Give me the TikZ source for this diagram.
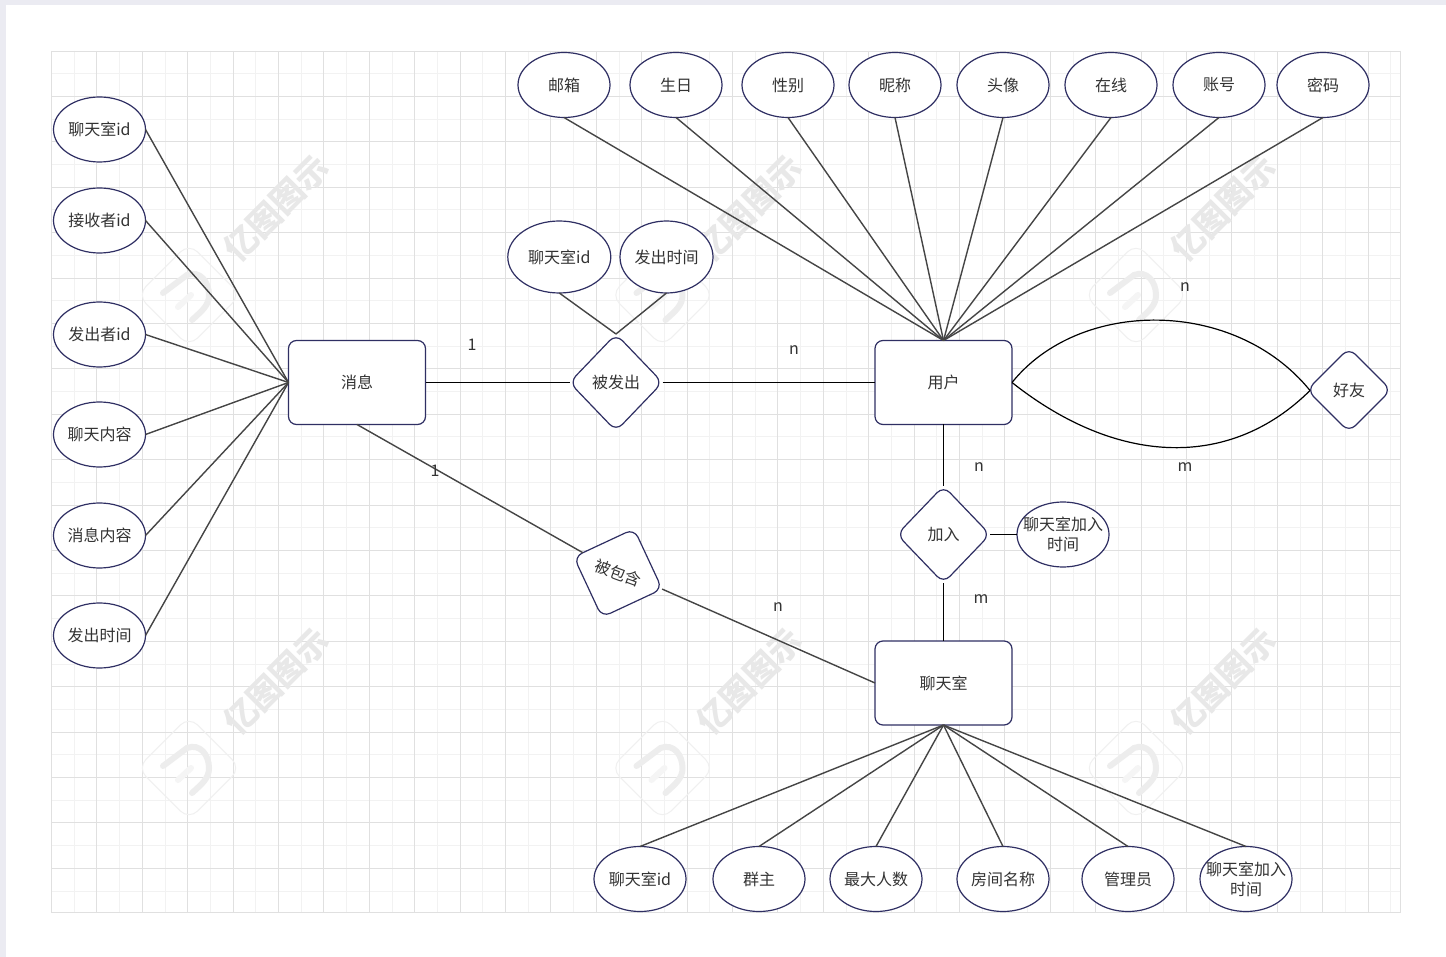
\documentclass[tikz,border=0pt]{standalone}
\usepackage{fontspec}
\setmainfont{Noto Sans CJK SC}
\usepackage{tikz}
\usetikzlibrary{shapes.geometric}
\definecolor{navy}{HTML}{2F2F63}
\definecolor{ink}{HTML}{333333}
\definecolor{wire}{HTML}{454545}
\definecolor{strip}{HTML}{EBEBF2}
\newcommand{\wideline}[1]{\makebox[0pt]{#1}}

\begin{document}
\begin{tikzpicture}[
  x=1pt, y=-1pt,
  every node/.style={font=\fontsize{16}{20}\selectfont, text=ink, inner sep=0pt, outer sep=0pt},
  ent/.style={draw=navy, fill=white, line width=1.2pt, rounded corners=8pt, minimum width=137pt, minimum height=84pt},
  attr/.style={draw=navy, fill=white, line width=1.2pt, ellipse, minimum width=92pt, minimum height=65pt, align=center},
  rel/.style={draw=navy, fill=white, line width=1.2pt, diamond, rounded corners=9pt, minimum width=93pt, minimum height=97pt},
  lab/.style={font=\fontsize{16}{20}\selectfont},
  wire/.style={draw=wire, line width=1.4pt},
  curve/.style={draw=black, line width=1.2pt},
  gridmajor/.style={draw=black!12, line width=.9pt},
  gridminor/.style={draw=black!5, line width=.8pt},
  wm/.style={draw=black!7, line width=6pt, line cap=round}]
\useasboundingbox (0,0) rectangle (1446,957);
\fill[white] (0,0) rectangle (1446,957);
\fill[strip] (0,0) rectangle (1446,5);
\fill[strip] (0,0) rectangle (6,957);
% grid
\foreach \gx in {0,...,29} {
  \draw[gridminor] ({74.2+45.4*\gx},51) -- ({74.2+45.4*\gx},912);
}
\foreach \gy in {0,...,18} {
  \draw[gridminor] (51.5,{73.7+45.4*\gy}) -- (1400.5,{73.7+45.4*\gy});
}
\foreach \gx in {0,...,29} {
  \draw[gridmajor] ({51.5+45.4*\gx},51) -- ({51.5+45.4*\gx},912.5);
}
\foreach \gy in {0,...,18} {
  \draw[gridmajor] (51.5,{51+45.4*\gy}) -- (1400.5,{51+45.4*\gy});
}
\draw[gridmajor] (51.5,912.5) -- (1400.5,912.5);
\draw[gridmajor] (1400.5,51) -- (1400.5,912.5);
% watermark
\foreach \wx in {0,473.5,947} {
  \foreach \wy in {0,473} {
    \begin{scope}[shift={(\wx,\wy)}]
    \node[draw=black!6, line width=1pt, rounded corners=12pt, rotate=45, minimum size=73pt] (logo) at (189,295) {};
    \draw[wm] (163,293) -- (187,275) .. controls (200,270) and (209,282) .. (209,295) .. controls (209,305) and (203,310) .. (192,320);
    \draw[wm, draw=black!4] (178,307) -- (191,295);
    \node[rotate=45, text=black!9, font=\fontsize{33}{33}\selectfont\bfseries] (mark) at (276,208) {亿图图示};
    \end{scope}
  }
}
% entities
\node[ent] (msg) at (357,382.5) {消息};
\node[ent] (user) at (943.5,382.5) {用户};
\node[ent] (room) at (943.5,683) {聊天室};
% relations
\node[rel] (sent) at (616,382.5) {被发出};
\node[rel] (join) at (943.5,534.5) {加入};
\node[rel, minimum width=84pt, minimum height=84pt] (friend) at (1349,390) {好友};
\node[rel, rotate=-20, minimum width=94pt, minimum height=94pt] (held) at (618,573) {被包含};
\coordinate (friendtip) at (1310,390.5);
% message attributes
\node[attr] (m1) at (99.5,129.5) {聊天室id};
\node[attr] (m2) at (99.5,220.5) {接收者id};
\node[attr] (m3) at (99.5,334.5) {发出者id};
\node[attr] (m4) at (99.5,434.5) {聊天内容};
\node[attr] (m5) at (99.5,535.5) {消息内容};
\node[attr] (m6) at (99.5,635.5) {发出时间};
% user attributes
\node[attr] (u1) at (564,85) {邮箱};
\node[attr] (u2) at (676,85) {生日};
\node[attr] (u3) at (788,85) {性别};
\node[attr] (u4) at (895,85) {昵称};
\node[attr] (u5) at (1003,85) {头像};
\node[attr] (u6) at (1111,85) {在线};
\node[attr] (u7) at (1219,85) {账号};
\node[attr] (u8) at (1323,85) {密码};
% room attributes
\node[attr] (r1) at (640,879) {聊天室id};
\node[attr] (r2) at (759,879) {群主};
\node[attr] (r3) at (876,879) {最大人数};
\node[attr] (r4) at (1003,879) {房间名称};
\node[attr] (r5) at (1128,879) {管理员};
\node[attr] (r6) at (1246,879) {\wideline{聊天室加入}\\时间};
% relation attributes
\node[attr, minimum width=103pt, minimum height=72pt] (s1) at (559.3,257) {聊天室id};
\node[attr, minimum width=93pt, minimum height=72pt] (s2) at (666.5,257) {发出时间};
\node[attr] (j1) at (1063,534.5) {\wideline{聊天室加入}\\时间};
% connectors
\foreach \a in {m1,m2,m3,m4,m5,m6} {
  \draw[wire] (\a.east) -- (msg.west);
}
\foreach \a in {u1,u2,u3,u4,u5,u6,u7,u8} {
  \draw[wire] (\a.south) -- (user.north);
}
\foreach \a in {r1,r2,r3,r4,r5,r6} {
  \draw[wire] (\a.north) -- (room.south);
}
\draw[wire] (s1.south) -- (sent.north);
\draw[wire] (s2.south) -- (sent.north);
\draw[curve] (msg.east) -- (sent.west);
\draw[curve] (sent.east) -- (user.west);
\draw[wire] (msg.south) -- (held.170);
\draw[wire] (held.east) -- (room.west);
\draw[curve] (user.south) -- (join.north);
\draw[curve] (join.south) -- (room.north);
\draw[curve] (join.east) -- (j1.west);
\draw[curve] (user.east) .. controls (1080,298) and (1235,298) .. (friendtip);
\draw[curve] (user.east) .. controls (1120,468) and (1232,468) .. (friendtip);
% cardinalities
\node[lab] (c1) at (472,344.5) {1};
\node[lab] (c2) at (794,350.5) {n};
\node[lab] (c3) at (435,470.5) {1};
\node[lab] (c4) at (778,607.5) {n};
\node[lab] (c5) at (1185,287.5) {n};
\node[lab] (c6) at (1185,467.5) {m};
\node[lab] (c7) at (979,467.5) {n};
\node[lab] (c8) at (981,599.5) {m};
\end{tikzpicture}
\end{document}
